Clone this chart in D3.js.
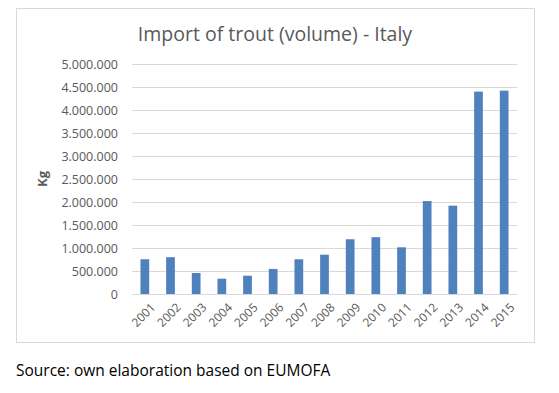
<!DOCTYPE html>
<html>
<head>
<meta charset="utf-8">
<script src="https://cdn.jsdelivr.net/npm/d3@7"></script>
<style>
  body { margin: 0; background: #fff; }
  svg { display: block; font-family: "Open Sans", sans-serif; }
</style>
</head>
<body>
<svg id="chart" width="559" height="393"></svg>
<script>
// Import of trout (volume) - Italy, kg per year
var years = ['2001', '2002', '2003', '2004', '2005', '2006', '2007', '2008',
             '2009', '2010', '2011', '2012', '2013', '2014', '2015'];
var volumes = [755000, 800000, 457000, 333000, 398000, 545000, 755000, 855000,
               1190000, 1235000, 1015000, 2020000, 1920000, 4400000, 4420000];
var yTicks = [0, 500000, 1000000, 1500000, 2000000, 2500000, 3000000, 3500000,
              4000000, 4500000, 5000000];

var svg = d3.select('#chart');
var plot = {left: 132, right: 517, top: 64, bottom: 294};

//outer frame of the chart object
svg.append('rect')
    .attr('x', 16.5).attr('y', 8.5)
    .attr('width', 518).attr('height', 334)
    .attr('fill', '#fff')
    .attr('stroke', '#d9d9d9');

svg.append('text')
    .attr('x', 275).attr('y', 41)
    .attr('text-anchor', 'middle')
    .attr('font-size', 19.5)
    .attr('fill', '#595959')
    .text('Import of trout (volume) - Italy');

var x = d3.scaleBand()
    .domain(years)
    .range([plot.left, plot.right])
    .paddingInner(0.66)
    .paddingOuter(0.33);

var y = d3.scaleLinear()
    .domain([0, 5000000])
    .range([plot.bottom, plot.top]);

var fmt = function(d) { return d3.format(',')(d).replace(/,/g, '.'); };

//gridlines + labels
var yAxis = svg.append('g')
    .attr('transform', 'translate(' + plot.left + ',0)')
    .call(d3.axisLeft(y).tickValues(yTicks).tickFormat(fmt)
        .tickSize(-(plot.right - plot.left)).tickPadding(14));
yAxis.select('.domain').remove();
yAxis.selectAll('line').attr('stroke', '#d9d9d9');
yAxis.selectAll('text')
    .attr('fill', '#595959')
    .attr('font-size', 12.5)
    .attr('font-family', '"Open Sans", sans-serif');

svg.append('text')
    .attr('transform', 'translate(47,' + ((plot.top + plot.bottom) / 2) + ') rotate(-90)')
    .attr('text-anchor', 'middle')
    .attr('font-size', 13)
    .attr('font-weight', 'bold')
    .attr('fill', '#595959')
    .text('Kg');

svg.selectAll('.bar')
    .data(volumes)
    .enter()
    .append('rect')
    .attr('class', 'bar')
    .attr('x', function(d, i) { return x(years[i]); })
    .attr('y', function(d) { return y(d); })
    .attr('width', x.bandwidth())
    .attr('height', function(d) { return y(0) - y(d); })
    .attr('fill', '#4f81bd');

var xAxis = svg.append('g')
    .attr('transform', 'translate(0,' + plot.bottom + ')')
    .call(d3.axisBottom(x).tickSize(0).tickPadding(6));
xAxis.select('.domain').attr('stroke', '#d9d9d9').attr('d', 'M' + plot.left + ',0.5H' + plot.right);
xAxis.selectAll('text')
    .attr('fill', '#595959')
    .attr('font-size', 12)
    .attr('font-family', '"Open Sans", sans-serif')
    .attr('text-anchor', 'end')
    .attr('dy', '0.35em')
    .attr('transform', 'translate(4,7) rotate(-45)');

svg.append('text')
    .attr('x', 16).attr('y', 376)
    .attr('font-size', 15.5)
    .attr('fill', '#000')
    .text('Source: own elaboration based on EUMOFA');
</script>
</body>
</html>
